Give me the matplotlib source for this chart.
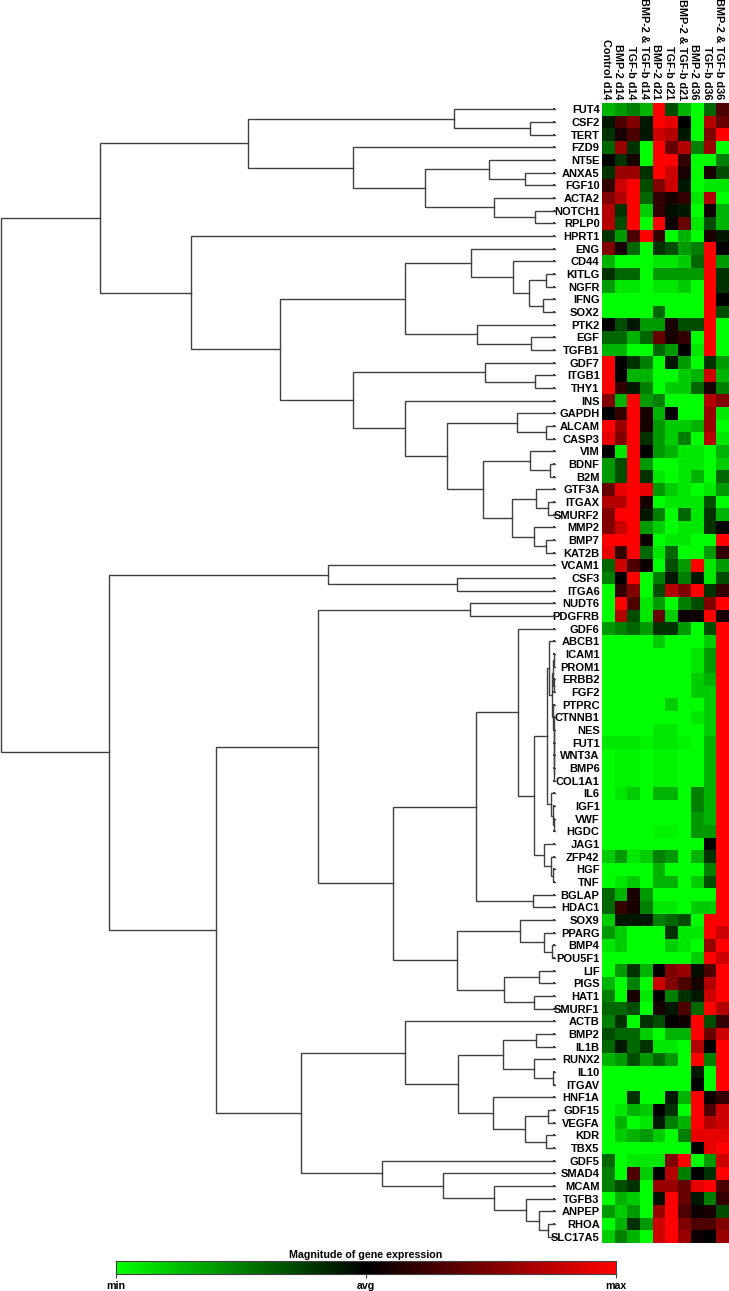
import matplotlib
matplotlib.use('Agg')
import matplotlib.pyplot as plt
import numpy as np
from matplotlib.colors import LinearSegmentedColormap

W, H = 729, 1291
plt.rcParams['font.family'] = ['Liberation Sans', 'DejaVu Sans']
plt.rcParams['font.weight'] = 'bold'

samples = ['Control d14', 'BMP-2 d14', 'TGF-b d14', 'BMP-2 & TGF-b d14',
           'BMP-2 d21', 'TGF-b d21', 'BMP-2 & TGF-b d21',
           'BMP-2 d36', 'TGF-b d36', 'BMP-2 & TGF-b d36']

genes = ['FUT4', 'CSF2', 'TERT', 'FZD9', 'NT5E', 'ANXA5', 'FGF10', 'ACTA2', 'NOTCH1', 'RPLP0',
         'HPRT1', 'ENG', 'CD44', 'KITLG', 'NGFR', 'IFNG', 'SOX2', 'PTK2', 'EGF', 'TGFB1',
         'GDF7', 'ITGB1', 'THY1', 'INS', 'GAPDH', 'ALCAM', 'CASP3', 'VIM', 'BDNF', 'B2M',
         'GTF3A', 'ITGAX', 'SMURF2', 'MMP2', 'BMP7', 'KAT2B', 'VCAM1', 'CSF3', 'ITGA6', 'NUDT6',
         'PDGFRB', 'GDF6', 'ABCB1', 'ICAM1', 'PROM1', 'ERBB2', 'FGF2', 'PTPRC', 'CTNNB1', 'NES',
         'FUT1', 'WNT3A', 'BMP6', 'COL1A1', 'IL6', 'IGF1', 'VWF', 'HGDC', 'JAG1', 'ZFP42',
         'HGF', 'TNF', 'BGLAP', 'HDAC1', 'SOX9', 'PPARG', 'BMP4', 'POU5F1', 'LIF', 'PIGS',
         'HAT1', 'SMURF1', 'ACTB', 'BMP2', 'IL1B', 'RUNX2', 'IL10', 'ITGAV', 'HNF1A', 'GDF15',
         'VEGFA', 'KDR', 'TBX5', 'GDF5', 'SMAD4', 'MCAM', 'TGFB3', 'ANPEP', 'RHOA', 'SLC17A5']

# expression, -10 = min (green), 0 = avg (black), 10 = max (red)
expr = [
    [-7, -6, -5, -7, 10, -3, -7, -10, -4, 3],
    [-1, 3, 5, -1, 10, 9, 0, -10, 7, 4],
    [-2, 1, 3, -1, 8, 7, -1, -10, 5, 10],
    [-4, 6, -2, -10, 10, 4, 7, -5, 6, -10],
    [0, -2, 1, -10, 10, 10, 2, -10, -10, -5],
    [-2, 6, 6, -2, 10, 8, 1, -10, 1, -3],
    [2, 8, 10, -3, 5, 8, -1, -10, -9, -9],
    [5, 7, 10, -4, 2, 1, 2, -9, 7, -10],
    [7, -2, 10, -8, 2, -0.5, -1, -10, 0.5, -7],
    [7, -3, 10, -10, 10, 0.5, 4, -9, -3, -7],
    [-2, -6, 3, 10, 2, -10, -7, -10, 1, -1],
    [5, 1, -4, -10, -2, -3, -6, -5, 10, 0],
    [-7, -10, -10, -10, -9, -9, -8, -4, 10, -6],
    [-2, -4, -4, -10, -6, -6, -6, -6, 10, -2],
    [-6, -9, -9, -10, -9, -9, -8, -10, 10, -2],
    [-10, -10, -10, -10, -10, -10, -10, -10, 10, 0],
    [-10, -10, -10, -10, -4, -10, -10, -10, 10, -3],
    [0, -3, -1, -6, -6, 1, -3, -3, 10, -10],
    [-4, -4, -7, -4, 4, 1, 2, -10, 10, -10],
    [-7, -7, -10, -10, -4, -6, 0, -9, 10, -10],
    [10, 0, -2, -5, -10, -1, -6, -10, -2, -6],
    [10, 0, -7, -7, -10, -10, -8, -7, 8, -7],
    [10, 2, -1, -5, -10, -8, -8, -4, 1, -5],
    [5, -7, 10, -6, -5, -10, -10, -10, 7, 5],
    [0, 2, 10, 1, -7, 0, -10, -10, 6, -9],
    [10, 6, 10, 1, -6, -8, -8, -7, 6, -10],
    [9, 5, 10, -2, -6, -8, -5, -10, 7, -9],
    [0, -9, 10, 0, -6, -7, -9, -9, -10, -7],
    [-6, -3, 10, -6, -10, -10, -9, -9, -10, -8],
    [-6, -3, 10, -2, -9, -10, -9, -7, -10, -4],
    [4, 9, 10, 9, -6, -8, -9, -10, -9, -6],
    [7, 7, 10, 1, -10, -9, -9, -9, -3, -10],
    [5, 10, 10, -1, -5, -10, -4, -9, -2, -7],
    [5, 8, 10, -6, -8, -10, -9, -9, -2, 0],
    [10, 10, 10, 0.5, -10, -9, -9, -10, -10, 10],
    [9, 2, 10, -4, -9, -4, -10, -10, -6, 2],
    [-4, 8, 3, 0.5, -10, -3, -6, 10, -9, -6],
    [-5, 0, 10, -10, -5, -1, -5, -1, -9, -3],
    [-10, 2, 5, -10, -3, 7, 5, 10, -2, 2],
    [-10, 10, 3, -9, -6, -10, -5, -3, 5, 10],
    [-10, 7, -3, -9, 4, -8, 0.5, 0.5, 10, 1],
    [-6, -5, -4, -6, -2, -2, -6, -10, -3, 10],
    [-10, -10, -10, -10, -8, -10, -10, -10, -8, 10],
    [-10, -10, -10, -10, -10, -10, -10, -9, -6, 10],
    [-10, -10, -10, -10, -10, -10, -10, -9, -6, 10],
    [-10, -10, -10, -10, -10, -10, -10, -8, -7, 10],
    [-10, -10, -10, -10, -10, -10, -10, -8, -8, 10],
    [-10, -10, -10, -10, -10, -8, -10, -10, -8, 10],
    [-10, -10, -10, -10, -10, -10, -10, -9, -8, 10],
    [-10, -10, -10, -10, -9, -9, -10, -10, -8, 10],
    [-9, -9, -9, -9.5, -9, -9, -9.5, -10, -7, 10],
    [-10, -9.5, -9.5, -10, -9.5, -9.5, -10, -10, -7, 10],
    [-10, -9.5, -9.5, -10, -9.5, -9.5, -10, -10, -7, 10],
    [-10, -9.5, -9.5, -10, -9.5, -9.5, -10, -10, -7, 10],
    [-10, -9, -8, -10, -7, -7, -10, -5, -7, 10],
    [-10, -10, -10, -10, -10, -10, -10, -5, -7, 10],
    [-10, -10, -10, -10, -10, -10, -10, -6, -7, 10],
    [-10, -10, -10, -10, -9.5, -9.5, -10, -6, -6, 10],
    [-10, -10, -10, -10, -10, -10, -10, -10, 0, 10],
    [-8, -6, -9, -8, -5, -6, -10, -7, -2, 10],
    [-10, -10, -10, -10, -7, -10, -10, -10, -5, 10],
    [-10, -9, -8, -10, -7, -7, -10, -8, -3, 10],
    [-4, -7, 1, -6, -10, -10, -10, -10, -10, 10],
    [-4, 2, 1, -5, -9, -9, -10, -8, -8, 10],
    [-8, -1, -1, -1, -5, -4, -3, -10, 10, 10],
    [-6, -8, -10, -10, -10, -2, -9, -9, 10, 8],
    [-9, -8, -10, -10, -10, -8, -9, -10, 6, 10],
    [-10, -10, -10, -10, -10, -10, -10, -8, 10, 8],
    [-10, -6, -2, -7, 0, 5, 6, -0.5, 3, 10],
    [-7, -10, -5, -10, 8, 5, 3, 1, 7, 10],
    [-5, -10, 1, -9, 0, -5, -2, -1, 8, 10],
    [-4, -4, -3, -10, 1, -1, 3, -4, 10, 7],
    [-5, -2, -10, -2, -3, 0, 0.5, 10, -3, 2],
    [-3, -4, -4, -8, -10, -7, -7, 10, 4, 8],
    [-4, -1, -4, -2, -9, -9, -10, 7, 0, 10],
    [-7, -6, -3, -6, -4, -6, -10, 10, -5, 10],
    [-10, -10, -10, -10, -10, -10, -10, -1, -10, 10],
    [-10, -10, -10, -10, -10, -10, -10, 0, -10, 10],
    [-10, -10, -2, -10, -10, -1, -7, 10, 0.5, 2],
    [-10, -9, -7, -8, 0, -2, -10, 10, 3, 8],
    [-10, -7, -10, -9, -1, -5, -7, 10, 7, 8],
    [-10, -8, -7, -6, -8, -10, -5, 9, 9, 9],
    [-10, -10, -10, -10, -10, -10, -10, 0, 9, 10],
    [-4, -10, -9, -9, -9, 5, 10, -10, -6, 8],
    [-5, -10, 3, -8, 0, 7, -5, 0, -2, 10],
    [-5, -3, -2, -10, 6, 6, 4, 9, 10, 3],
    [-10, -7, -8, -10, -0.5, 10, 4, -1, -5, 2],
    [-6, -8, -6, -10, 6, 10, 3, 0.5, 1, -3],
    [-10, -7, -2, -6, 8, 10, 5, 3, 3, 5],
    [-8, -5, -7, -10, 8, 10, 6, 0.5, 0, 6],
]

# dendrogram: (merge distance, upper branch, lower branch)
cluster_a = (248, (454, 'FUT4', (530, 'CSF2', 'TERT')),
             (353, 'FZD9', (425,
                            (489, 'NT5E', (525, 'ANXA5', 'FGF10')),
                            (494, 'ACTA2', (535, 'NOTCH1', 'RPLP0')))))
cluster_c = (405,
             (471, 'ENG', (513, 'CD44', (529, (546, 'KITLG', 'NGFR'), (543, 'IFNG', 'SOX2')))),
             (477, 'PTK2', (531, 'EGF', 'TGFB1')))
cluster_d = (353, (485, 'GDF7', (535, 'ITGB1', 'THY1')),
             (405, 'INS', (447,
                           (517, 'GAPDH', (546, 'ALCAM', 'CASP3')),
                           (482.5,
                            (530, 'VIM', (550, 'BDNF', 'B2M')),
                            (512,
                             (536, 'GTF3A', (548, 'ITGAX', 'SMURF2')),
                             (534, 'MMP2', (546, 'BMP7', 'KAT2B')))))))
cluster_b = (191, 'HPRT1', (280, cluster_c, cluster_d))

ladder = (553, 'PTPRC', (553.5, 'CTNNB1', (553.5, 'NES', (554, 'FUT1', (554, 'WNT3A', (554, 'BMP6', 'COL1A1'))))))
tight = (546.5,
         (549, 'ABCB1', (551.5, (553, (553.5, 'ICAM1', 'PROM1'), (553.5, 'ERBB2', 'FGF2')), ladder)),
         (551, 'IL6', (553, 'IGF1', (554, 'VWF', 'HGDC'))))
cluster_l = (518, 'GDF6', (534, tight, (544, 'JAG1', (551, 'ZFP42', (553, 'HGF', 'TNF')))))
cluster_k = (457,
             (520, 'SOX9', (543.5, 'PPARG', (552, 'BMP4', 'POU5F1'))),
             (503.5, (538.5, 'LIF', 'PIGS'), (534, 'HAT1', 'SMURF1')))
cluster_g = (318, (470, 'NUDT6', 'PDGFRB'),
             (393, (476, cluster_l, (533, 'BGLAP', 'HDAC1')), cluster_k))
cluster_x = (405, 'ACTB', (458,
                           (503, (536, 'BMP2', 'IL1B'), (534, 'RUNX2', (553, 'IL10', 'ITGAV'))),
                           (493, 'HNF1A', (525, (548, 'GDF15', 'VEGFA'), (546, 'KDR', 'TBX5')))))
cluster_y = (382, 'GDF5', (443, 'SMAD4', (494, 'MCAM', (526, 'TGFB3', (538.5, 'ANPEP', (548, 'RHOA', 'SLC17A5'))))))
tree = (1, (100, cluster_a, cluster_b),
        (109, (327.5, 'VCAM1', (457, 'CSF3', 'ITGA6')),
         (216, cluster_g, (301, cluster_x, cluster_y))))

cbar_ticks = [-10, 0, 10]
cbar_labels = ['min', 'avg', 'max']

cmap = LinearSegmentedColormap.from_list('gbr', ['#00ff00', '#000000', '#ff0000'])
LINE = '#404040'
TREE_END = 555


def axes_px(fig, left, top, right, bottom):
    return fig.add_axes([left / W, 1 - bottom / H, (right - left) / W, (bottom - top) / H])


def draw_tree(ax, node):
    # returns (x, y) of the node so the parent can connect to it
    if isinstance(node, str):
        y = genes.index(node)
        ax.plot([TREE_END - 2.5, TREE_END], [y, y], color='black', lw=1.1, solid_capstyle='butt')
        return TREE_END, y
    dist, upper, lower = node
    x1, y1 = draw_tree(ax, upper)
    x2, y2 = draw_tree(ax, lower)
    ax.plot([x1, dist, dist, x2], [y1, y1, y2, y2], color=LINE, lw=1.0, solid_joinstyle='miter')
    return dist, (y1 + y2) / 2


fig = plt.figure(figsize=(W / 100, H / 100), dpi=100, facecolor='white')

# heatmap, labels come from the tick labels
ax = axes_px(fig, 602.3, 103, 728.5, 1243)
ax.imshow(np.array(expr), cmap=cmap, vmin=-10, vmax=10, aspect='auto', interpolation='nearest')
ax.set_yticks(range(len(genes)))
ax.set_yticklabels(genes, fontsize=8.0)
ax.set_xticks(np.arange(len(samples)) - 0.22)
ax.set_xticklabels(samples, rotation=-90, fontsize=7.85, ha='center', va='bottom')
ax.xaxis.tick_top()
ax.tick_params(length=0, pad=2.5)
ax.tick_params(axis='y', pad=2)
for s in ax.spines.values():
    s.set_visible(False)

# dendrogram shares the rows of the heatmap
ax_tree = axes_px(fig, 0, 103, TREE_END + 1, 1243)
draw_tree(ax_tree, tree)
ax_tree.set_xlim(0, TREE_END + 1)
ax_tree.set_ylim(len(genes) - 0.5, -0.5)
ax_tree.axis('off')

# colour scale
ax_bar = axes_px(fig, 116, 1261, 616, 1274)
ax_bar.imshow(np.linspace(-10, 10, 256).reshape(1, -1), cmap=cmap, vmin=-10, vmax=10,
              aspect='auto', extent=[-10, 10, 0, 1])
ax_bar.set_yticks([])
ax_bar.set_xticks(cbar_ticks)
ax_bar.set_xticklabels(cbar_labels, fontsize=7.7)
ax_bar.tick_params(axis='x', length=3, width=0.8, color=LINE, pad=2)
ax_bar.set_title('Magnitude of gene expression', fontsize=7.7, fontweight='bold', pad=2)
for s in ax_bar.spines.values():
    s.set_color(LINE)
    s.set_linewidth(0.8)

fig.savefig('out.png', dpi=100)
